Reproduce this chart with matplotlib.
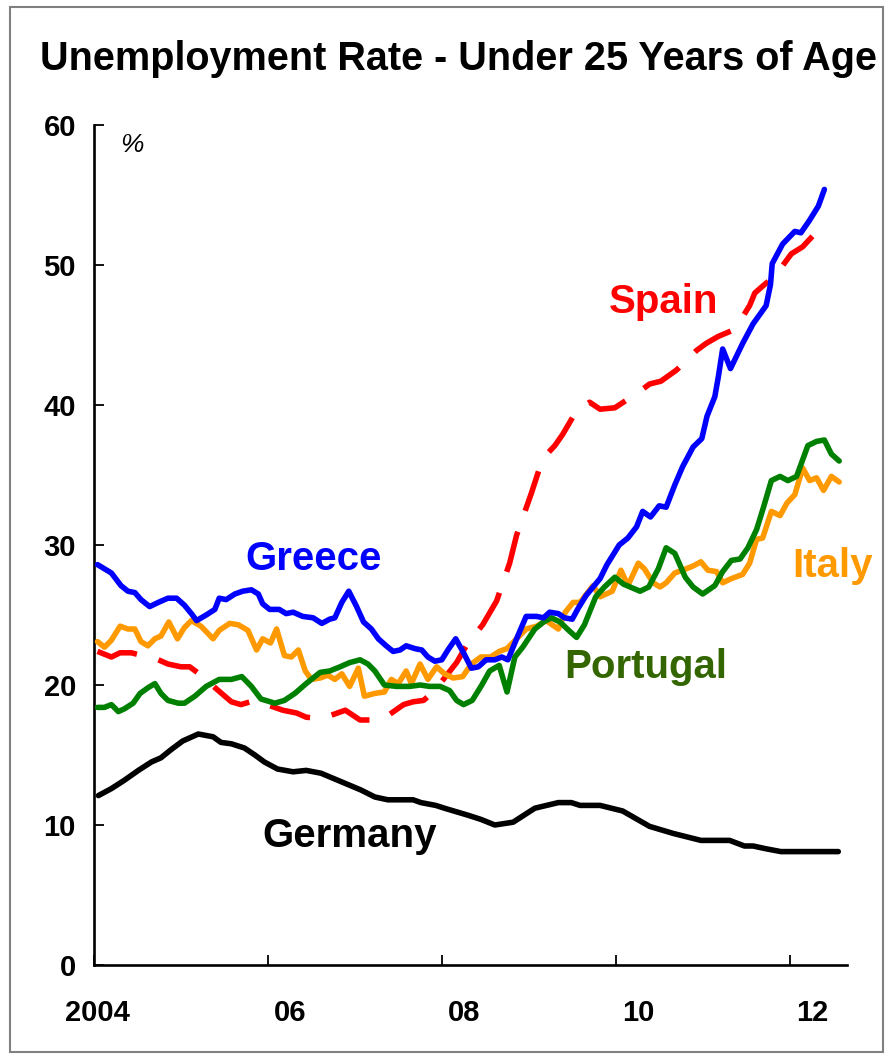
import matplotlib
matplotlib.use("Agg")
import matplotlib.pyplot as plt
from matplotlib.patches import Rectangle

plt.rcParams["font.family"] = ["Liberation Sans", "DejaVu Sans"]

# ── data (decimal years, % unemployed under 25) ──
greece_t = [2004.04, 2004.20, 2004.31, 2004.39, 2004.47, 2004.54, 2004.64, 2004.74, 2004.85, 2004.95,
            2005.04, 2005.12, 2005.18, 2005.29, 2005.39, 2005.44, 2005.52, 2005.62, 2005.71, 2005.81,
            2005.89, 2005.94, 2006.02, 2006.13, 2006.21, 2006.29, 2006.40, 2006.52, 2006.62, 2006.71,
            2006.77, 2006.85, 2006.93, 2007.02, 2007.10, 2007.19, 2007.27, 2007.36, 2007.44, 2007.52,
            2007.59, 2007.69, 2007.77, 2007.84, 2007.92, 2008.00, 2008.07, 2008.16, 2008.25, 2008.34,
            2008.42, 2008.51, 2008.61, 2008.69, 2008.76, 2008.86, 2008.97, 2009.09, 2009.17, 2009.24,
            2009.34, 2009.41, 2009.50, 2009.57, 2009.66, 2009.74, 2009.82, 2009.90, 2010.04, 2010.14,
            2010.24, 2010.31, 2010.40, 2010.50, 2010.58, 2010.68, 2010.77, 2010.89, 2010.99, 2011.05,
            2011.14, 2011.18, 2011.23, 2011.32, 2011.46, 2011.58, 2011.73, 2011.78, 2011.80, 2011.92,
            2012.06, 2012.13, 2012.23, 2012.33, 2012.40]
greece_v = [28.6, 28.0, 27.1, 26.7, 26.6, 26.1, 25.6, 25.9, 26.2, 26.2,
            25.7, 25.1, 24.6, 25.0, 25.4, 26.2, 26.1, 26.5, 26.7, 26.8,
            26.5, 25.8, 25.4, 25.4, 25.1, 25.2, 24.9, 24.8, 24.4, 24.7,
            24.8, 25.9, 26.7, 25.6, 24.5, 24.0, 23.3, 22.8, 22.4, 22.5,
            22.8, 22.6, 22.5, 22.0, 21.7, 21.8, 22.5, 23.3, 22.3, 21.2,
            21.3, 21.8, 21.8, 22.0, 21.8, 23.3, 24.9, 24.9, 24.8, 25.2,
            25.1, 24.8, 24.7, 25.5, 26.4, 27.0, 27.6, 28.6, 30.0, 30.5,
            31.3, 32.4, 32.0, 32.8, 32.7, 34.3, 35.6, 37.0, 37.6, 39.2,
            40.6, 42.0, 44.0, 42.6, 44.4, 45.8, 47.1, 48.6, 50.1, 51.5,
            52.4, 52.3, 53.2, 54.2, 55.4]

spain_t = [2004.04, 2004.20, 2004.30, 2004.43, 2004.74, 2004.85, 2005.00, 2005.10, 2005.21, 2005.43,
           2005.58, 2005.69, 2005.85, 2006.17, 2006.33, 2006.44, 2006.62, 2006.89, 2007.06, 2007.17,
           2007.33, 2007.56, 2007.67, 2007.79, 2007.90, 2007.98, 2008.17, 2008.30, 2008.47, 2008.63,
           2008.78, 2008.86, 2009.03, 2009.13, 2009.18, 2009.30, 2009.39, 2009.55, 2009.70, 2009.82,
           2009.99, 2010.26, 2010.39, 2010.52, 2010.70, 2010.93, 2011.04, 2011.18, 2011.37, 2011.54,
           2011.60, 2011.71, 2011.83, 2012.02, 2012.15, 2012.27, 2012.40]
spain_v = [22.4, 22.0, 22.3, 22.3, 21.8, 21.5, 21.3, 21.3, 20.8, 19.6,
           18.8, 18.6, 18.9, 18.2, 18.0, 17.7, 17.6, 18.2, 17.5, 17.5,
           17.6, 18.6, 18.8, 18.9, 19.5, 20.1, 21.6, 23.0, 24.3, 26.0,
           28.7, 30.7, 33.7, 35.6, 36.3, 37.1, 37.9, 39.6, 40.2, 39.7,
           39.8, 40.9, 41.5, 41.7, 42.5, 43.9, 44.4, 44.9, 45.4, 47.1,
           48.0, 48.6, 49.2, 50.8, 51.3, 52.1, 52.6]

italy_t = [2004.04, 2004.12, 2004.20, 2004.30, 2004.39, 2004.47, 2004.54, 2004.62, 2004.70, 2004.77,
           2004.86, 2004.96, 2005.04, 2005.12, 2005.23, 2005.37, 2005.44, 2005.56, 2005.66, 2005.77,
           2005.87, 2005.94, 2006.03, 2006.10, 2006.19, 2006.27, 2006.35, 2006.43, 2006.50, 2006.60,
           2006.69, 2006.77, 2006.85, 2006.94, 2007.04, 2007.11, 2007.23, 2007.34, 2007.42, 2007.50,
           2007.59, 2007.65, 2007.75, 2007.84, 2007.94, 2008.03, 2008.13, 2008.24, 2008.34, 2008.45,
           2008.56, 2008.66, 2008.75, 2008.86, 2008.97, 2009.09, 2009.20, 2009.34, 2009.42, 2009.51,
           2009.59, 2009.74, 2009.82, 2009.96, 2010.06, 2010.14, 2010.26, 2010.33, 2010.43, 2010.51,
           2010.58, 2010.68, 2010.77, 2010.89, 2010.98, 2011.06, 2011.16, 2011.23, 2011.33, 2011.46,
           2011.54, 2011.62, 2011.69, 2011.79, 2011.89, 2011.97, 2012.06, 2012.15, 2012.23, 2012.31,
           2012.39, 2012.48, 2012.57]
italy_v = [23.1, 22.7, 23.2, 24.2, 24.0, 24.0, 23.1, 22.8, 23.3, 23.5,
           24.5, 23.3, 24.1, 24.6, 24.2, 23.3, 23.9, 24.4, 24.3, 23.9,
           22.5, 23.3, 23.0, 24.0, 22.1, 22.0, 22.5, 21.0, 20.4, 20.5,
           20.7, 20.4, 20.8, 19.9, 21.2, 19.2, 19.4, 19.5, 20.4, 20.1,
           21.0, 20.1, 21.5, 20.4, 21.3, 20.8, 20.5, 20.6, 21.5, 22.0,
           22.0, 22.4, 22.6, 23.3, 24.0, 24.2, 24.6, 24.0, 25.2, 25.9,
           25.9, 27.1, 26.3, 26.7, 28.2, 27.1, 28.7, 28.3, 27.3, 27.0,
           27.3, 28.0, 28.2, 28.5, 28.8, 28.2, 28.1, 27.3, 27.6, 27.9,
           28.7, 30.4, 30.5, 32.4, 32.1, 33.0, 33.6, 35.5, 34.6, 34.8,
           33.9, 34.9, 34.5]

portugal_t = [2004.04, 2004.12, 2004.20, 2004.28, 2004.35, 2004.45, 2004.53, 2004.62, 2004.70, 2004.77,
              2004.85, 2004.97, 2005.04, 2005.16, 2005.29, 2005.44, 2005.58, 2005.70, 2005.81, 2005.92,
              2006.08, 2006.19, 2006.31, 2006.44, 2006.60, 2006.71, 2006.83, 2006.94, 2007.06, 2007.15,
              2007.23, 2007.34, 2007.48, 2007.63, 2007.75, 2007.86, 2007.98, 2008.09, 2008.17, 2008.25,
              2008.35, 2008.46, 2008.55, 2008.66, 2008.75, 2008.84, 2008.93, 2009.07, 2009.17, 2009.26,
              2009.36, 2009.46, 2009.55, 2009.64, 2009.77, 2009.87, 2009.99, 2010.09, 2010.28, 2010.38,
              2010.49, 2010.58, 2010.68, 2010.80, 2010.89, 2011.00, 2011.14, 2011.23, 2011.33, 2011.43,
              2011.52, 2011.62, 2011.70, 2011.79, 2011.89, 2011.98, 2012.08, 2012.21, 2012.31, 2012.40,
              2012.48, 2012.57]
portugal_v = [18.4, 18.4, 18.6, 18.1, 18.3, 18.7, 19.4, 19.8, 20.1, 19.4,
              18.9, 18.7, 18.7, 19.2, 19.9, 20.4, 20.4, 20.6, 19.9, 19.0,
              18.7, 18.9, 19.4, 20.1, 20.9, 21.0, 21.3, 21.6, 21.8, 21.5,
              21.0, 20.0, 19.9, 19.9, 20.0, 19.9, 19.9, 19.6, 18.9, 18.6,
              18.9, 20.0, 21.0, 21.4, 19.5, 22.0, 22.7, 24.0, 24.5, 24.8,
              24.5, 23.9, 23.4, 24.3, 26.3, 27.0, 27.7, 27.2, 26.7, 27.0,
              28.3, 29.8, 29.4, 27.7, 27.0, 26.5, 27.1, 28.1, 28.9, 29.0,
              29.8, 31.1, 32.7, 34.6, 34.9, 34.6, 34.9, 37.1, 37.4, 37.5,
              36.5, 36.0]

germany_t = [2004.05, 2004.20, 2004.35, 2004.51, 2004.66, 2004.77, 2004.89, 2005.02, 2005.20, 2005.37,
             2005.46, 2005.58, 2005.73, 2005.85, 2005.96, 2006.11, 2006.29, 2006.44, 2006.61, 2006.84,
             2007.07, 2007.23, 2007.38, 2007.67, 2007.76, 2007.93, 2008.03, 2008.30, 2008.45, 2008.61,
             2008.82, 2009.07, 2009.34, 2009.49, 2009.59, 2009.82, 2010.08, 2010.39, 2010.66, 2010.98,
             2011.31, 2011.48, 2011.58, 2011.73, 2011.90, 2012.27, 2012.56]
germany_v = [12.1, 12.6, 13.2, 13.9, 14.5, 14.8, 15.4, 16.0, 16.5, 16.3,
             15.9, 15.8, 15.5, 15.0, 14.5, 14.0, 13.8, 13.9, 13.7, 13.1,
             12.5, 12.0, 11.8, 11.8, 11.6, 11.4, 11.2, 10.7, 10.4, 10.0,
             10.2, 11.2, 11.6, 11.6, 11.4, 11.4, 11.0, 9.9, 9.4, 8.9,
             8.9, 8.5, 8.5, 8.3, 8.1, 8.1, 8.1]

xtick_years = [2004, 2006, 2008, 2010, 2012]
xtick_labels = ["2004", "06", "08", "10", "12"]
ytick_values = [0, 10, 20, 30, 40, 50, 60]

W, H = 892, 1059
fig = plt.figure(figsize=(W / 100, H / 100), dpi=100)
fig.patch.set_facecolor("white")
ax = fig.add_axes([94 / W, 1 - 965 / H, (847 - 94) / W, (965 - 125) / H])

lw = 4.0
common = dict(lw=lw, solid_joinstyle="round", solid_capstyle="round")
ax.plot(spain_t, spain_v, color="#FF0000", lw=lw, dashes=(7.5, 4),
        dash_capstyle="butt", zorder=2)
ax.plot(italy_t, italy_v, color="#FF9900", zorder=3, **common)
ax.plot(portugal_t, portugal_v, color="#008000", zorder=4, **common)
ax.plot(greece_t, greece_v, color="#0000FF", zorder=5, **common)
ax.plot(germany_t, germany_v, color="black", zorder=5, **common)

ax.set_xlim(2004, 2012.66)
ax.set_ylim(0, 60)
for s in ("top", "right"):
    ax.spines[s].set_visible(False)
for s in ("left", "bottom"):
    ax.spines[s].set_linewidth(1.9)

ax.set_yticks(ytick_values)
ax.set_yticklabels([str(v) for v in ytick_values], fontsize=21, fontweight="bold")
ax.tick_params(axis="y", direction="in", length=7, width=1.3, pad=13)
ax.set_xticks(xtick_years)
ax.set_xticklabels([])
ax.tick_params(axis="x", direction="in", length=7, width=1.3)

xt = ax.get_xaxis_transform()
for yr, lab in zip(xtick_years, xtick_labels):
    if lab == "2004":
        ax.text(yr + 0.04, -0.057, lab, transform=xt, ha="center", va="center",
                fontsize=21, fontweight="bold", clip_on=False)
    else:
        ax.text(yr + 0.07, -0.057, lab, transform=xt, ha="left", va="center",
                fontsize=21, fontweight="bold", clip_on=False)

ax.text(0.05, 0.99, "%", transform=ax.transAxes, ha="center", va="top",
        fontsize=19, fontstyle="italic")

lab_kw = dict(fontsize=29, fontweight="bold", va="baseline")
ax.text(2006.53, 28.2, "Greece", color="#0000FF", ha="center", **lab_kw)
ax.text(2010.55, 46.6, "Spain", color="#FF0000", ha="center", **lab_kw)
ax.text(2012.03, 27.7, "Italy", color="#FF9900", ha="left", **lab_kw)
ax.text(2009.41, 20.5, "Portugal", color="#336600", ha="left", **lab_kw)
ax.text(2005.94, 8.43, "Germany", color="black", ha="left", **lab_kw)

fig.text(458 / W, 1 - 70 / H, "Unemployment Rate - Under 25 Years of Age",
         ha="center", va="baseline", fontsize=28.5, fontweight="bold")

fig.patches.append(Rectangle((10 / W, 1 - 1052 / H), (883 - 10) / W, (1052 - 7) / H,
                             transform=fig.transFigure, fill=False,
                             edgecolor="#808080", lw=1.5))

fig.savefig("out.png", dpi=100)
